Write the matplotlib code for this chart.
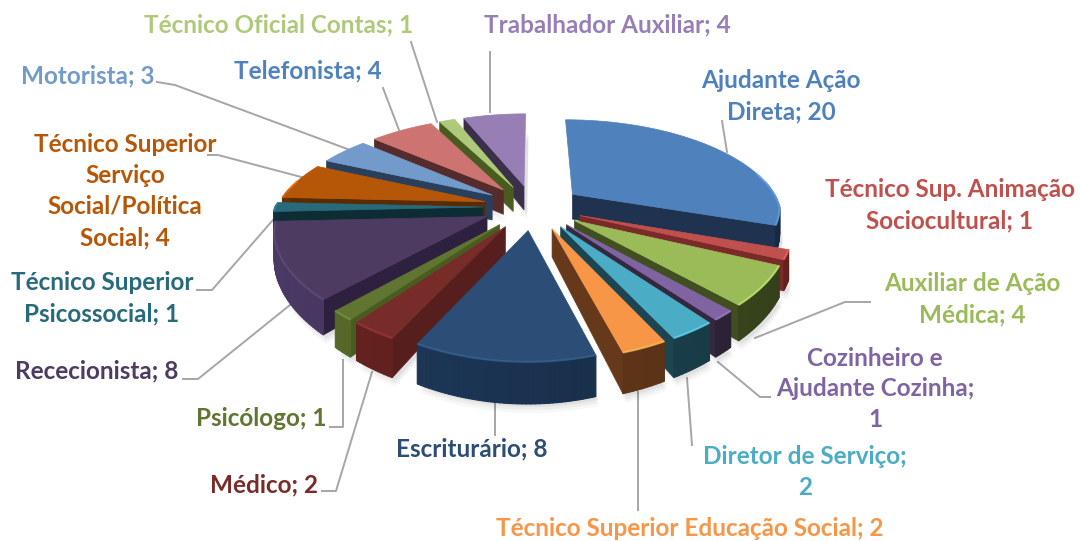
import numpy as np
from matplotlib import pyplot as plt
from matplotlib.colors import to_rgb
from matplotlib.patches import Polygon

plt.rcParams['font.family'] = ['Lato', 'DejaVu Sans']
plt.rcParams['font.weight'] = 'bold'

names = ['Ajudante Ação\nDireta; 20', 'Técnico Sup. Animação\nSociocultural; 1', 'Auxiliar de Ação\nMédica; 4',
         'Cozinheiro e\nAjudante Cozinha;\n1', 'Diretor de Serviço;\n2', 'Técnico Superior Educação Social; 2',
         'Escriturário; 8', 'Médico; 2', 'Psicólogo; 1', 'Rececionista; 8', 'Técnico Superior\nPsicossocial; 1',
         'Técnico Superior\nServiço\nSocial/Política\nSocial; 4', 'Motorista; 3', 'Telefonista; 4',
         'Técnico Oficial Contas; 1', 'Trabalhador Auxiliar; 4']
values = [20, 1, 4, 1, 2, 2, 8, 2, 1, 8, 1, 4, 3, 4, 1, 4]
top_colors = ['#4f81bd', '#c0504d', '#9bbb59', '#8064a2', '#4bacc6', '#f79646', '#2c4d75', '#772c2a',
              '#5f7530', '#4d3b62', '#276a7c', '#b65708', '#729aca', '#cd7371', '#afc97a', '#977fb6']
wall_colors = ['#1f3350', '#7a2a28', '#414f20', '#33283f', '#1c4552', '#66391a', '#1b3453', '#5e201e',
               '#4f6226', '#43335b', '#0e2c34', '#5a2b00', '#2a3f5c', '#552c2b', '#4a5b20', '#3b3049']
side_colors = ['#1f3350', '#7a2a28', '#414f20', '#33283f', '#1c4552', '#66391a', '#1b3453', '#561e1c',
               '#4a5b20', '#2e2140', '#0e2c34', '#5a2b00', '#2a3f5c', '#552c2b', '#4a5b20', '#3b3049']
label_colors = list(top_colors)
label_colors[13] = '#4f81bd'

label_x = [781, 950, 972, 875, 805, 690, 472, 264, 261, 97, 102, 125, 88, 308, 279, 607]
label_y = [96, 205, 299, 389, 472, 529, 449, 485, 418, 371, 298, 191, 76, 71, 25, 25]

leaders = [[(722, 121), (727, 152)], [(411, 42), (437, 122)], [(490, 52), (490, 112)], [(383, 88), (399, 130)],
           [(157, 82), (175, 85), (350, 150)], [(208, 155), (218, 155), (305, 178)],
           [(197, 290), (212, 290), (286, 205)], [(183, 379), (198, 379), (290, 305)],
           [(330, 427), (343, 427), (343, 360)], [(322, 491), (336, 491), (372, 372)],
           [(495, 402), (495, 435)], [(638, 510), (638, 392)], [(692, 445), (687, 378)],
           [(770, 397), (760, 397), (718, 362)], [(870, 302), (845, 302), (755, 338)]]

cx, cy = 533, 207
rx, ry = 208, 94
persp_front = 0.12
persp_back = 0.22
persp_y = 0.2
depth = 26
explode = 0.24


def project(x, y, z=0.0):
    # y points to the viewer, z goes down
    s = 1 / (1 - persp_y * y)
    k = persp_front if y > 0 else persp_back
    return cx + rx * x / (1 - k * y), cy + ry * y * s + depth * z * s ** 1.7


def shade(color, f):
    return tuple(min(1, c * f) for c in to_rgb(color))


fig = plt.figure(figsize=(10.8, 5.41), dpi=100)
ax = fig.add_axes([0, 0, 1, 1])
ax.set_xlim(0, 1080)
ax.set_ylim(541, 0)
ax.axis('off')

for pts in leaders:
    xs, ys = zip(*pts)
    ax.plot(xs, ys, color='#a6a6a6', lw=1.4, zorder=1)

edges = np.cumsum([0] + values) / sum(values) * 2 * np.pi
order = sorted(range(len(values)), key=lambda i: -np.cos((edges[i] + edges[i + 1]) / 2))


def slice_outline(i, z):
    a0, a1 = edges[i], edges[i + 1]
    mid = (a0 + a1) / 2
    ox, oy = explode * np.sin(mid), -explode * np.cos(mid)
    th = np.linspace(a0, a1, max(3, int(np.degrees(a1 - a0))))
    apex = project(ox, oy, z)
    arc = [project(ox + np.sin(t), oy - np.cos(t), z) for t in th]
    return apex, arc, th


# soft shadow under the whole pie
for grow, alpha in [(9, 0.03), (6, 0.04), (3, 0.05)]:
    for i in range(len(values)):
        apex, arc, th = slice_outline(i, 1.0)
        pts = [(x + 3, y + grow) for x, y in [apex] + arc]
        ax.add_patch(Polygon(pts, closed=True, fc='black', ec='none', alpha=alpha, zorder=2))

zo = 3
for i in order:
    a0, a1 = edges[i], edges[i + 1]
    apex, arc, th = slice_outline(i, 0)
    apex_b, arc_b, _ = slice_outline(i, 1)

    # side faces, only those turned to the viewer
    if np.sin(a0) < 0:
        pts = [apex, arc[0], arc_b[0], apex_b]
        ax.add_patch(Polygon(pts, closed=True, fc=side_colors[i], ec=side_colors[i], lw=0.5, zorder=zo))
    if np.sin(a1) > 0:
        pts = [apex, arc[-1], arc_b[-1], apex_b]
        ax.add_patch(Polygon(pts, closed=True, fc=side_colors[i], ec=side_colors[i], lw=0.5, zorder=zo))

    # outer wall, darker to the right
    for j in range(len(th) - 1):
        tm = (th[j] + th[j + 1]) / 2
        if np.cos(tm) > 0.15:
            continue
        col = shade(wall_colors[i], 1.12 - 0.32 * (np.sin(tm) + 1) / 2)
        pts = [arc[j], arc[j + 1], arc_b[j + 1], arc_b[j]]
        ax.add_patch(Polygon(pts, closed=True, fc=col, ec=col, lw=0.8, zorder=zo))

    ax.add_patch(Polygon([apex] + arc, closed=True, fc=top_colors[i], ec=top_colors[i], lw=0.5, zorder=zo))

    # bevel highlight along the rim
    front = [p for p, t in zip(arc, th) if np.cos(t) < 0.25]
    if len(front) > 1:
        xs, ys = zip(*front)
        ax.plot(xs, ys, color=shade(top_colors[i], 1.35), lw=1.5, alpha=0.6, zorder=zo,
                solid_capstyle='butt')
    zo += 1

for name, col, x, y in zip(names, label_colors, label_x, label_y):
    ax.text(x, y, name, color=col, fontsize=17.5, fontweight='bold', ha='center', va='center',
            linespacing=1.42, zorder=50)

fig.savefig('out.png', dpi=100)
